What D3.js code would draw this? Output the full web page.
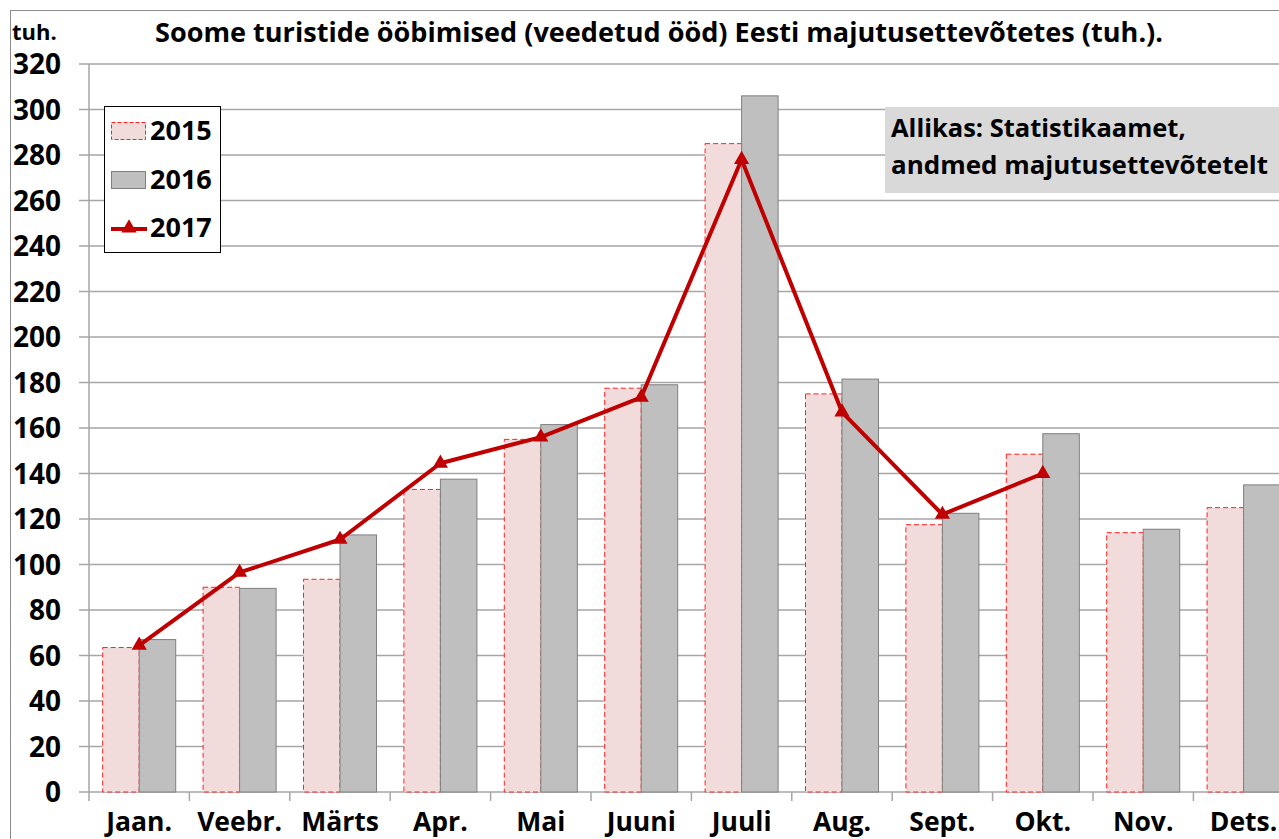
<!DOCTYPE html>
<html>
<head>
    <meta charset="utf-8">
    <script src="https://d3js.org/d3.v7.min.js"></script>
    <style>
        body { margin: 0; background: #fff; }
        svg text { font-family: "Open Sans", "Liberation Sans", sans-serif; font-weight: bold; fill: #000; }
    </style>
</head>
<body>
<div id="chart"></div>
<script>
    // data
    var months = ["Jaan.", "Veebr.", "Märts", "Apr.", "Mai", "Juuni", "Juuli", "Aug.", "Sept.", "Okt.", "Nov.", "Dets."];
    var v2015 = [63.5, 90, 93.5, 133, 155, 177.5, 285, 175, 117.5, 148.5, 114, 125];
    var v2016 = [67, 89.5, 113, 137.5, 161.5, 179, 306, 181.5, 122.5, 157.5, 115.5, 135];
    var v2017 = [64.5, 96.5, 111, 144.5, 156, 173.5, 278, 167, 122, 140, null, null];
    var yTicks = [0, 20, 40, 60, 80, 100, 120, 140, 160, 180, 200, 220, 240, 260, 280, 300, 320];

    var W = 1279, H = 839;
    var svg = d3.select("#chart").append("svg")
        .attr("width", W).attr("height", H);

    // outer frame
    svg.append("rect")
        .attr("x", 10.5).attr("y", 10.5)
        .attr("width", W).attr("height", H)
        .attr("fill", "none").attr("stroke", "#8c8c8c").attr("stroke-width", 1);

    var x = d3.scaleBand().domain(months).range([89, 89 + 12 * 100.4]);
    var xs = d3.scaleBand().domain(["2015", "2016"]).range([0, x.bandwidth()]).paddingOuter(0.375);
    var y = d3.scaleLinear().domain([0, 320]).range([792, 64]);

    // gridlines
    svg.append("g").selectAll("line").data(yTicks).join("line")
        .attr("x1", 79).attr("x2", W)
        .attr("y1", function(d) { return y(d); }).attr("y2", function(d) { return y(d); })
        .attr("stroke", "#a6a6a6").attr("stroke-width", 1.5);

    // y axis line
    svg.append("line")
        .attr("x1", 89).attr("x2", 89).attr("y1", y(320)).attr("y2", y(0) + 9)
        .attr("stroke", "#a6a6a6").attr("stroke-width", 1.5);

    // x tick marks at band boundaries
    svg.append("g").selectAll("line").data(months).join("line")
        .attr("x1", function(d) { return x(d) + x.bandwidth(); })
        .attr("x2", function(d) { return x(d) + x.bandwidth(); })
        .attr("y1", y(0)).attr("y2", y(0) + 9)
        .attr("stroke", "#a6a6a6").attr("stroke-width", 1.5);

    // y labels
    svg.append("g").selectAll("text").data(yTicks).join("text")
        .attr("x", 61).attr("y", function(d) { return y(d) + 10; })
        .attr("text-anchor", "end").attr("font-size", 28)
        .text(function(d) { return d; });

    // x labels
    svg.append("g").selectAll("text").data(months).join("text")
        .attr("x", function(d) { return x(d) + x.bandwidth() / 2; })
        .attr("y", 831)
        .attr("text-anchor", "middle").attr("font-size", 26.5)
        .text(function(d) { return d; });

    // bars 2015
    svg.append("g").selectAll("rect").data(v2015).join("rect")
        .attr("x", function(d, i) { return x(months[i]) + xs("2015"); })
        .attr("y", function(d) { return y(d); })
        .attr("width", xs.bandwidth())
        .attr("height", function(d) { return y(0) - y(d); })
        .attr("fill", "#f2dcdb").attr("stroke", "#ff2020")
        .attr("stroke-width", 1).attr("stroke-dasharray", "5,3");

    // bars 2016
    svg.append("g").selectAll("rect").data(v2016).join("rect")
        .attr("x", function(d, i) { return x(months[i]) + xs("2016"); })
        .attr("y", function(d) { return y(d); })
        .attr("width", xs.bandwidth())
        .attr("height", function(d) { return y(0) - y(d); })
        .attr("fill", "#bfbfbf").attr("stroke", "#7f7f7f").attr("stroke-width", 1);

    // line 2017
    var pts = v2017.map(function(d, i) { return {m: months[i], v: d}; }).filter(function(d) { return d.v != null; });
    var line = d3.line()
        .x(function(d) { return x(d.m) + x.bandwidth() / 2; })
        .y(function(d) { return y(d.v); });
    svg.append("path").datum(pts)
        .attr("d", line)
        .attr("fill", "none").attr("stroke", "#c00000").attr("stroke-width", 4)
        .attr("stroke-linejoin", "round");

    var tri = d3.symbol().type(d3.symbolTriangle).size(100);
    svg.append("g").selectAll("path").data(pts).join("path")
        .attr("transform", function(d) { return "translate(" + (x(d.m) + x.bandwidth() / 2) + "," + y(d.v) + ")"; })
        .attr("d", tri)
        .attr("fill", "#c00000");

    // title
    svg.append("text").attr("x", 12).attr("y", 40).attr("font-size", 22).text("tuh.");
    svg.append("text").attr("x", 155).attr("y", 42).attr("font-size", 26)
        .attr("textLength", 1008).attr("lengthAdjust", "spacingAndGlyphs")
        .text("Soome turistide ööbimised (veedetud ööd) Eesti majutusettevõtetes (tuh.).");

    // legend
    var lg = svg.append("g");
    lg.append("rect").attr("x", 104.5).attr("y", 106.5).attr("width", 116).attr("height", 146)
        .attr("fill", "#fff").attr("stroke", "#000").attr("stroke-width", 1);
    lg.append("rect").attr("x", 111.5).attr("y", 122.5).attr("width", 34).attr("height", 17)
        .attr("fill", "#f2dcdb").attr("stroke", "#ff2020").attr("stroke-dasharray", "4,2");
    lg.append("rect").attr("x", 111.5).attr("y", 171.5).attr("width", 34).attr("height", 17)
        .attr("fill", "#bfbfbf").attr("stroke", "#7f7f7f");
    lg.append("line").attr("x1", 111).attr("x2", 147).attr("y1", 229).attr("y2", 229)
        .attr("stroke", "#c00000").attr("stroke-width", 4);
    lg.append("path").attr("transform", "translate(129,228)").attr("d", tri).attr("fill", "#c00000");
    var legNames = ["2015", "2016", "2017"];
    lg.selectAll("text").data(legNames).join("text")
        .attr("x", 150).attr("y", function(d, i) { return 140 + i * 48.5; })
        .attr("font-size", 27).text(function(d) { return d; });

    // source box
    svg.append("rect").attr("x", 885).attr("y", 107).attr("width", 400).attr("height", 86)
        .attr("fill", "#d9d9d9");
    svg.append("text").attr("x", 891).attr("y", 137).attr("font-size", 25.5).text("Allikas: Statistikaamet,");
    svg.append("text").attr("x", 891).attr("y", 174).attr("font-size", 25.5)
        .attr("textLength", 377).attr("lengthAdjust", "spacingAndGlyphs")
        .text("andmed majutusettevõtetelt");
</script>
</body>
</html>
